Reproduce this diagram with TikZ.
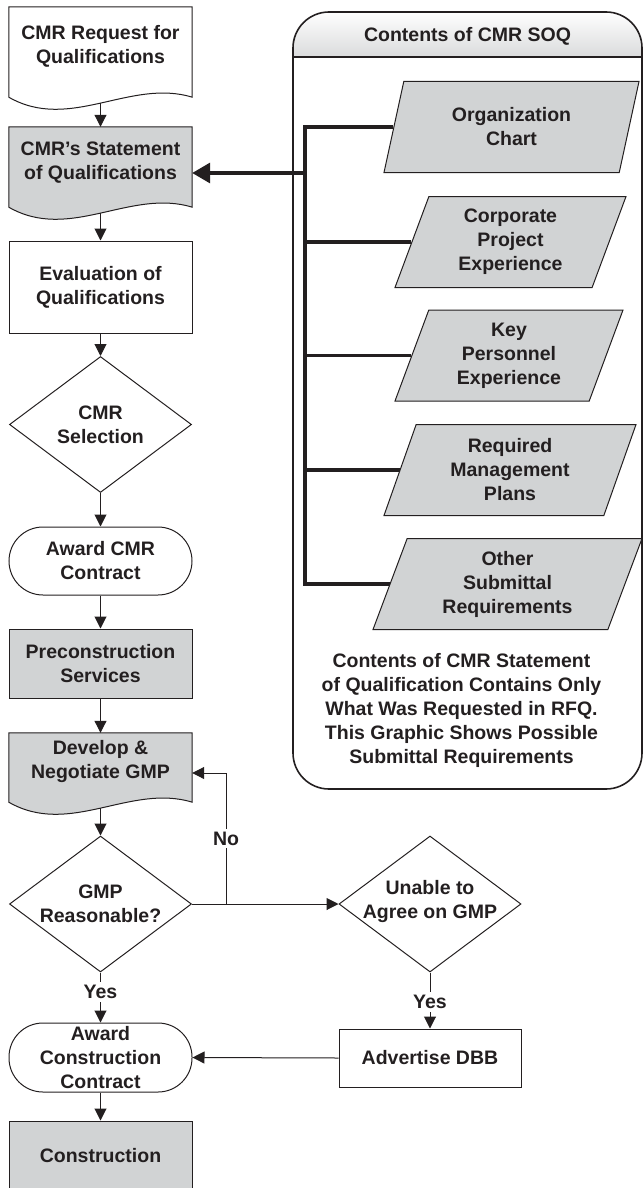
\documentclass[tikz,border=0pt]{standalone}
\usepackage{fontspec}
\setmainfont{Liberation Sans}
\usetikzlibrary{shapes.geometric, shapes.misc, arrows.meta, backgrounds}

\definecolor{ink}{HTML}{231F20}
\definecolor{boxgray}{HTML}{D1D3D4}
\definecolor{hdrgray}{HTML}{DADBDC}

% Document symbol: flat top, straight sides dropped #3 below the node, wavy bottom
\newcommand\drawdocshape[3]{%
  \path[draw=ink, line width=1pt, fill=#2]
    (#1.north west) -- (#1.north east) -- ([yshift=-#3pt]#1.south east)
    .. controls +(-62,-19) and +(61,35) .. ([yshift=-#3pt]#1.south west) -- cycle;}

\begin{document}
\begin{tikzpicture}[x=1pt, y=-1pt,
  font=\fontsize{19.5}{24}\selectfont\bfseries,
  line join=miter,
  flowbase/.style={minimum width=183pt, inner sep=0pt, align=center, text=ink},
  procbox/.style={flowbase, rectangle, draw=ink, line width=1pt},
  docnode/.style={flowbase, rectangle},
  stadium/.style={flowbase, rectangle, draw=ink, line width=1pt, rounded corners=34pt},
  decision/.style={diamond, draw=ink, line width=1pt, minimum width=182pt,
    minimum height=136pt, inner sep=0pt, aspect=1.34},
  datanode/.style={trapezium, trapezium left angle=62.7, trapezium right angle=117.3,
    trapezium stretches body, draw=ink, line width=1pt, fill=boxgray,
    minimum height=91pt, inner sep=0pt, align=center, text=ink},
  arr/.style={draw=ink, line width=1pt, -{Triangle[length=12pt, width=12pt]}},
  busline/.style={draw=ink, line width=3.5pt},
  bigarr/.style={busline, -{Triangle[length=18pt, width=20pt]}},
  edgetag/.style={fill=white, inner sep=3pt, text=ink},
]
\useasboundingbox (0,0) rectangle (644,1188);

% ---------------- main process column ----------------
\node[docnode, minimum height=79pt] (n1) at (100.5,46.5) {CMR Request for\\Qualifications};
\node[docnode, minimum height=71pt] (n2) at (100.5,162.5) {CMR’s Statement\\of Qualifications};
\node[procbox, minimum height=92pt] (n3) at (100.5,287) {Evaluation of\\Qualifications};
\node[decision, label={[align=center, text=ink]center:CMR\\Selection}] (d4) at (100.5,424.5) {};
\node[stadium, minimum height=68pt] (n5) at (100.5,561) {Award CMR\\Contract};
\node[procbox, fill=boxgray, minimum height=69pt] (n6) at (100.5,663.5) {Preconstruction\\Services};
\node[docnode, minimum height=56pt] (n7) at (100.5,761) {Develop \&\\Negotiate GMP};
\node[decision, label={[align=center, text=ink]center:GMP\\Reasonable?}] (d1) at (100.5,904) {};
\node[decision, label={[align=center, text=ink, yshift=3pt]center:Unable to\\Agree on GMP}] (d2) at (430,904) {};
\node[procbox, minimum width=182pt, minimum height=58pt] (n9) at (430,1058) {Advertise DBB};
\node[stadium, minimum height=69pt, label={[align=center, text=ink]center:Award\\Construction\\Contract}] (n8) at (100.5,1057.5) {};
\node[procbox, fill=boxgray, minimum height=69pt] (n10) at (100.5,1155.5) {Construction};

% ---------------- SOQ contents panel ----------------
\node[draw=ink, line width=1.6pt, rounded corners=36pt, minimum width=349pt,
  minimum height=777pt, inner sep=0pt] (soq) at (467.5,400.5) {};
\draw[ink, line width=1.6pt] ([yshift=-46pt]soq.north west) -- ([yshift=-46pt]soq.north east);
\node[text=ink] (soqhead) at ([yshift=-25pt]soq.north) {Contents of CMR SOQ};

\node[datanode, minimum width=255pt] (p1) at (511.5,127) {Organization\\Chart};
\node[datanode, minimum width=231pt] (p2) at (510.5,242) {Corporate\\Project\\Experience};
\node[datanode, minimum width=228pt] (p3) at (509,355.5) {Key\\Personnel\\Experience};
\node[datanode, minimum width=252pt] (p4) at (510,470) {Required\\Management\\Plans};
\node[datanode, minimum width=269pt] (p5) at (507.5,584) {Other\\Submittal\\Requirements};

\node[align=center, text=ink] (note) at (461.5,710) {Contents of CMR Statement\\of Qualification Contains Only\\What Was Requested in RFQ.\\This Graphic Shows Possible\\Submittal Requirements};

% ---------------- backgrounds: document outlines and header shading ----------------
\begin{scope}[on background layer]
  \drawdocshape{n1}{white}{11}
  \drawdocshape{n2}{boxgray}{9}
  \drawdocshape{n7}{boxgray}{13}
  \begin{scope}
    \clip[rounded corners=36pt] (soq.north west) rectangle (soq.south east);
    \shade[top color=white, bottom color=hdrgray] (soq.north west) rectangle ([yshift=-46pt]soq.north east);
  \end{scope}
\end{scope}

% ---------------- connectors ----------------
\coordinate (n1w) at ([yshift=-17pt]n1.south);
\coordinate (n2w) at ([yshift=-15pt]n2.south);
\coordinate (n7w) at ([yshift=-19pt]n7.south);
\coordinate (split) at (226,904);
\coordinate (bx) at (305,0);
\coordinate (soqin) at ([yshift=-10.5pt]n2.east);

\draw[arr] (n1w) -- (n2.north);
\draw[arr] (n2w) -- (n3.north);
\draw[arr] (n3.south) -- (d4.north);
\draw[arr] (d4.south) -- (n5.north);
\draw[arr] (n5.south) -- (n6.north);
\draw[arr] (n6.south) -- (n7.north);
\draw[arr] (n7w) -- (d1.north);
\draw[arr] (d1.east) -- (d2.west);
\draw[arr] (split) |- node[edgetag, pos=0.25] {No} ([yshift=-12pt]n7.east);
\draw[arr] (d1.south) -- node[edgetag, pos=0.39] {Yes} (n8.north);
\draw[arr] (d2.south) -- node[edgetag, pos=0.53] {Yes} (n9.north);
\draw[arr] (n9.west) -- (n8.east);
\draw[arr] (n8.south) -- (n10.north);

% bus joining the SOQ items
\draw[busline] (p1.left side) -- (p1.left side -| bx) -- (p5.left side -| bx) -- (p5.left side);
\foreach \p in {p2,p3,p4}
  \draw[busline] (\p.left side -| bx) -- (\p.left side);
\draw[bigarr] (soqin -| bx) -- (soqin);
\end{tikzpicture}
\end{document}
